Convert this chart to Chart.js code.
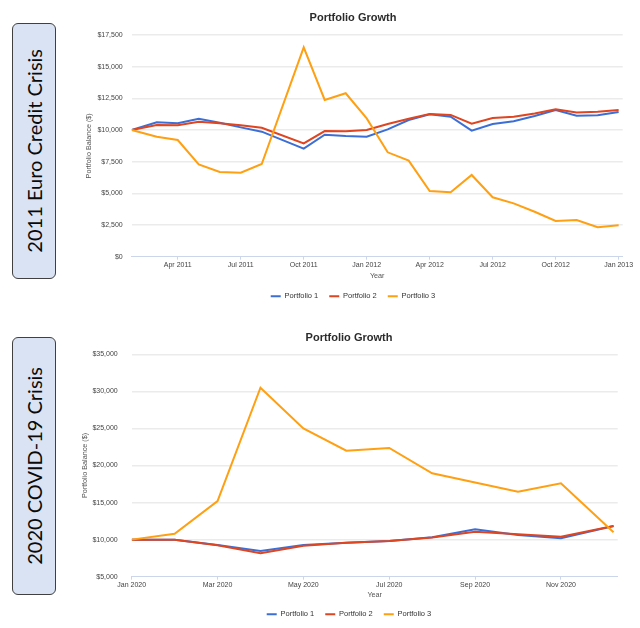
<!DOCTYPE html>
<html>
<head>
<meta charset="utf-8">
<script src="https://cdn.jsdelivr.net/npm/chart.js@4.4.1/dist/chart.umd.min.js"></script>
<style>
  body { margin: 0; background: #fff; }
  #page { position: relative; width: 640px; height: 628px; overflow: hidden; }
  .tag {
    position: absolute; left: 12px; width: 44px; box-sizing: border-box;
    border: 1.5px solid #404040; border-radius: 6px; background: #dae3f3;
    display: flex; align-items: center; justify-content: center;
  }
  .tag span {
    writing-mode: vertical-rl; transform: rotate(180deg);
    font-family: Lato, "Open Sans", sans-serif; font-size: 20px; color: #0a0a0a; white-space: nowrap;
  }
  canvas { position: absolute; left: 60px; }
</style>
</head>
<body>
<div id="page">
  <div class="tag" style="top:23px;height:256px"><span>2011 Euro Credit Crisis</span></div>
  <div class="tag" style="top:337px;height:258px"><span>2020 COVID-19 Crisis</span></div>
  <canvas id="euroChart" width="580" height="310" style="top:0"></canvas>
  <canvas id="covidChart" width="580" height="308" style="top:320px"></canvas>
</div>
<script>
const seriesNames = ['Portfolio 1', 'Portfolio 2', 'Portfolio 3'];
const seriesColors = ['#3c6fd6', '#de4520', '#ff9f12'];

// 2011 euro credit crisis
const euroDates = ['2011-01-26', '2011-03-01', '2011-04-01', '2011-05-01', '2011-06-01', '2011-07-01',
  '2011-08-01', '2011-10-01', '2011-11-01', '2011-12-01', '2012-01-01', '2012-02-01', '2012-03-01',
  '2012-04-01', '2012-05-01', '2012-06-01', '2012-07-01', '2012-08-01', '2012-09-01', '2012-10-01',
  '2012-11-01', '2012-12-01', '2013-01-01'];
const euroP1 = [10000, 10610, 10530, 10890, 10580, 10210, 9870, 8530, 9630, 9530, 9470, 10050, 10790,
  11240, 11050, 9950, 10470, 10690, 11110, 11580, 11130, 11160, 11420];
const euroP2 = [10000, 10400, 10370, 10660, 10530, 10370, 10180, 8950, 9920, 9900, 10000, 10470, 10890,
  11260, 11190, 10500, 10950, 11050, 11310, 11630, 11390, 11450, 11580];
const euroP3 = [10000, 9470, 9210, 7290, 6690, 6630, 7320, 16530, 12370, 12900, 10920, 8240, 7580,
  5190, 5080, 6450, 4690, 4210, 3550, 2820, 2900, 2320, 2480];
const euroTickDates = ['2011-04-01', '2011-07-01', '2011-10-01', '2012-01-01', '2012-04-01', '2012-07-01', '2012-10-01', '2013-01-01'];
const euroTickLabels = ['Apr 2011', 'Jul 2011', 'Oct 2011', 'Jan 2012', 'Apr 2012', 'Jul 2012', 'Oct 2012', 'Jan 2013'];

// 2020 covid crisis
const covidDates = ['2020-01-01', '2020-02-01', '2020-03-01', '2020-04-01', '2020-05-01', '2020-06-01',
  '2020-07-01', '2020-08-01', '2020-09-01', '2020-10-01', '2020-11-01', '2020-12-08'];
const covidP1 = [10000, 10000, 9270, 8470, 9270, 9590, 9820, 10310, 11390, 10630, 10180, 11840];
const covidP2 = [10000, 10000, 9250, 8160, 9180, 9590, 9820, 10300, 11070, 10720, 10400, 11850];
const covidP3 = [10000, 10800, 15210, 30500, 25000, 22000, 22360, 18950, 17700, 16470, 17600, 11000];
const covidTickDates = ['2020-01-01', '2020-03-01', '2020-05-01', '2020-07-01', '2020-09-01', '2020-11-01'];
const covidTickLabels = ['Jan 2020', 'Mar 2020', 'May 2020', 'Jul 2020', 'Sep 2020', 'Nov 2020'];

Chart.defaults.font.family = '"Liberation Sans", Arial, sans-serif';

// months since Jan of baseYear, with the day as a fraction
function monthIndex(s, baseYear) {
  const [y, m, d] = s.split('-').map(Number);
  const days = new Date(y, m, 0).getDate();
  return (y - baseYear) * 12 + (m - 1) + (d - 1) / days;
}

function makeChart(id, opts) {
  const datasets = opts.series.map((vals, i) => ({
    label: seriesNames[i],
    data: vals.map((v, j) => ({ x: monthIndex(opts.dates[j], opts.base), y: v })),
    borderColor: seriesColors[i],
    backgroundColor: seriesColors[i],
    borderWidth: 2,
    pointRadius: 0,
    tension: 0,
    order: 3 - i
  }));
  const tickVals = opts.tickDates.map(d => monthIndex(d, opts.base));

  return new Chart(document.getElementById(id), {
    type: 'line',
    data: { datasets: datasets },
    options: {
      responsive: false,
      animation: false,
      layout: { padding: { left: opts.padLeft, right: opts.padRight, top: 0, bottom: 0 } },
      plugins: {
        tooltip: { enabled: false },
        title: {
          display: true,
          text: 'Portfolio Growth',
          color: '#2b2b2b',
          font: { size: 11, weight: 'bold' },
          padding: opts.titlePad
        },
        legend: {
          position: 'bottom',
          labels: {
            color: '#333',
            font: { size: 7.5 },
            usePointStyle: true,
            pointStyle: 'line',
            pointStyleWidth: 10,
            padding: 11,
            sort: (a, b) => a.datasetIndex - b.datasetIndex
          }
        }
      },
      scales: {
        x: {
          type: 'linear',
          min: monthIndex(opts.dates[0], opts.base),
          max: monthIndex(opts.xMax, opts.base),
          afterBuildTicks: axis => { axis.ticks = tickVals.map(v => ({ value: v })); },
          afterFit: axis => { axis.height = opts.xHeight; },
          ticks: {
            autoSkip: false,
            maxRotation: 0,
            padding: 1,
            color: '#444',
            font: { size: 7 },
            callback: (v, i) => opts.tickLabels[i]
          },
          grid: { drawOnChartArea: false, tickLength: 3, color: '#ccd6eb' },
          border: { color: '#ccd6eb' },
          title: { display: true, text: 'Year', color: '#555', font: { size: 7.2 }, padding: { top: 0, bottom: opts.xTitlePad } }
        },
        y: {
          min: opts.yMin,
          max: opts.yMax,
          afterFit: axis => { axis.width = opts.yWidth; },
          ticks: {
            stepSize: opts.yStep,
            padding: opts.yTickPad,
            color: '#444',
            font: { size: 7 },
            callback: v => '$' + v.toLocaleString('en-US')
          },
          grid: {
            drawTicks: false,
            lineWidth: 1.5,
            color: c => c.index === 0 ? 'rgba(0,0,0,0)' : '#ebebeb'
          },
          border: { display: false },
          title: { display: true, text: 'Portfolio Balance ($)', color: '#555', font: { size: 7.2 }, padding: { top: opts.yTitlePad, bottom: 0 } }
        }
      }
    }
  });
}

makeChart('euroChart', {
  dates: euroDates, base: 2011, series: [euroP1, euroP2, euroP3],
  tickDates: euroTickDates, tickLabels: euroTickLabels, xMax: '2013-01-07',
  yMin: 0, yMax: 17500, yStep: 2500,
  padLeft: 23.3, padRight: 17.3, yWidth: 48.4, yTitlePad: 1.5, yTickPad: 9,
  titlePad: { top: 11.7, bottom: 10.1 }, xHeight: 24.8, xTitlePad: 1.3
});

makeChart('covidChart', {
  dates: covidDates, base: 2020, series: [covidP1, covidP2, covidP3],
  tickDates: covidTickDates, tickLabels: covidTickLabels, xMax: '2020-12-11',
  yMin: 5000, yMax: 35000, yStep: 5000,
  padLeft: 20.3, padRight: 22.3, yWidth: 51.4, yTitlePad: 0.5, yTickPad: 14,
  titlePad: { top: 11.7, bottom: 9.4 }, xHeight: 22.8, xTitlePad: 0
});
</script>
</body>
</html>
